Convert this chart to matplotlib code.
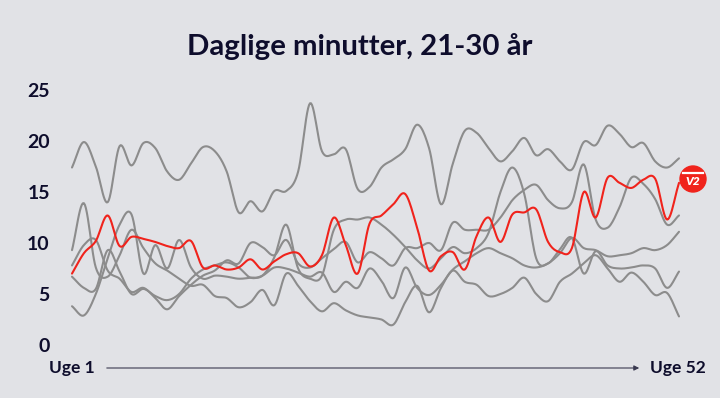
import numpy as np
import matplotlib
matplotlib.use("Agg")
import matplotlib.pyplot as plt
from matplotlib.patches import Circle, FancyArrowPatch

weeks = list(range(1, 53))
title = "Daglige minutter, 21-30 år"
yticks = [0, 5, 10, 15, 20, 25]
x_start_label = "Uge 1"
x_end_label = "Uge 52"

tv2 = [7.0, 9.0, 10.2, 12.7, 9.7, 10.6, 10.4, 10.1, 9.7, 9.5, 10.2, 7.6, 7.8, 7.4, 7.6, 8.4,
       7.4, 8.2, 8.9, 9.0, 7.7, 8.8, 12.5, 9.8, 7.0, 11.9, 12.7, 13.8, 14.8, 11.5, 7.3, 8.7,
       9.1, 7.4, 10.7, 12.5, 10.1, 12.8, 13.0, 13.3, 10.1, 9.1, 9.5, 15.0, 12.5, 16.4, 15.9,
       15.4, 16.2, 16.3, 12.3, 15.9]

other_a = [17.4, 19.9, 17.5, 14.0, 19.5, 17.6, 19.8, 19.3, 17.0, 16.2, 17.8, 19.4, 19.0, 17.0,
           13.0, 14.1, 13.1, 15.1, 15.1, 17.0, 23.7, 19.0, 18.7, 19.2, 15.3, 15.5, 17.4, 18.2,
           19.2, 21.6, 19.3, 13.8, 17.8, 21.0, 20.8, 19.3, 18.0, 19.0, 20.3, 18.6, 19.2, 18.0,
           17.2, 19.9, 19.6, 21.5, 20.7, 19.4, 19.8, 18.0, 17.4, 18.3]
other_b = [9.3, 13.9, 7.6, 6.7, 8.8, 11.3, 9.5, 8.0, 7.3, 6.5, 5.8, 5.9, 4.8, 4.6, 3.7, 4.2,
           5.4, 3.9, 7.0, 5.8, 4.3, 3.3, 4.1, 3.4, 2.9, 2.7, 2.5, 2.0, 4.2, 5.8, 3.2, 5.6,
           7.3, 6.2, 5.9, 4.8, 5.0, 5.6, 6.6, 5.0, 4.3, 6.2, 7.0, 8.0, 8.8, 7.5, 6.2, 7.1,
           6.2, 4.9, 5.1, 2.8]
other_c = [7.8, 9.8, 10.3, 7.3, 6.5, 5.2, 5.6, 4.6, 3.5, 4.8, 5.9, 6.8, 7.3, 8.3, 8.0, 10.0,
           9.6, 8.8, 10.3, 8.0, 7.6, 8.5, 9.4, 10.1, 8.1, 9.1, 8.5, 7.8, 9.5, 9.5, 10.0, 9.3,
           12.0, 11.3, 11.3, 11.3, 12.5, 14.2, 15.2, 15.7, 14.2, 13.4, 14.0, 17.7, 12.3, 11.5,
           13.5, 16.4, 15.8, 14.3, 11.8, 12.7]
other_d = [6.7, 5.6, 5.5, 9.3, 7.2, 5.0, 5.5, 4.8, 4.4, 5.0, 6.5, 7.4, 7.8, 8.1, 7.6, 6.6,
           6.8, 7.6, 7.5, 7.1, 6.7, 7.1, 5.2, 6.2, 5.6, 7.5, 6.3, 4.6, 7.6, 5.6, 4.9, 5.9,
           7.4, 8.2, 9.0, 9.5, 9.0, 8.5, 7.8, 7.6, 8.0, 9.0, 10.5, 9.5, 9.3, 8.7, 8.8, 9.0,
           9.5, 9.3, 9.8, 11.1]
other_e = [3.8, 2.9, 5.0, 8.5, 11.8, 12.8, 7.0, 9.8, 7.5, 10.3, 7.6, 6.5, 6.8, 6.7, 6.5, 6.6,
           6.8, 8.6, 11.8, 7.5, 6.5, 6.8, 11.3, 12.3, 12.3, 12.5, 11.8, 10.8, 9.6, 8.3, 7.5,
           8.5, 9.6, 9.0, 9.5, 11.0, 15.0, 17.4, 14.8, 8.5, 8.0, 9.4, 10.5, 7.0, 9.2, 7.8,
           7.5, 7.6, 7.8, 7.5, 5.6, 7.2]
others = [other_a, other_b, other_c, other_d, other_e]

BG = "#e1e2e6"
NAVY = "#0e0d2c"
GRAY = "#8c8c8c"
RED = "#f0231c"
FONT = ["Lato", "DejaVu Sans"]


def smooth(x, y, n=12):
    """Cubic Hermite (Catmull-Rom style) curve through the points, for drawing only."""
    x = np.asarray(x, float)
    y = np.asarray(y, float)
    m = np.gradient(y, x)
    xs, ys = [], []
    for i in range(len(x) - 1):
        h = x[i + 1] - x[i]
        t = np.linspace(0, 1, n, endpoint=False)
        h00 = 2 * t**3 - 3 * t**2 + 1
        h10 = t**3 - 2 * t**2 + t
        h01 = -2 * t**3 + 3 * t**2
        h11 = t**3 - t**2
        xs.append(x[i] + t * h)
        ys.append(h00 * y[i] + h10 * h * m[i] + h01 * y[i + 1] + h11 * h * m[i + 1])
    xs.append([x[-1]])
    ys.append([y[-1]])
    return np.concatenate(xs), np.concatenate(ys)


fig = plt.figure(figsize=(7.2, 3.98), dpi=100, facecolor=BG)
ax = fig.add_axes([72 / 720, 53 / 398, (679 - 72) / 720, 255 / 398])
ax.set_facecolor(BG)
ax.set_xlim(1, 52)
ax.set_ylim(0, 25)
for s in ax.spines.values():
    s.set_visible(False)

for ser in others:
    sx, sy = smooth(weeks, ser)
    ax.plot(sx, sy, color=GRAY, lw=1.5, solid_capstyle="round", clip_on=False, zorder=2)
sx, sy = smooth(weeks, tv2)
ax.plot(sx, sy, color=RED, lw=1.5, solid_capstyle="round", clip_on=False, zorder=3)

ax.set_xticks([])
ax.set_yticks(yticks)
ax.set_yticklabels([str(v) for v in yticks], fontsize=14, fontweight="bold",
                   color=NAVY, family=FONT)
ax.tick_params(axis="y", length=0, pad=16)

fig.text(0.5, 1 - 47 / 398, title, ha="center", va="center", fontsize=21.2,
         fontweight="bold", color=NAVY, family=FONT)

ylab = 1 - 368 / 398
fig.text(49 / 720, ylab, x_start_label, ha="left", va="center", fontsize=12.5,
         fontweight="bold", color=NAVY, family=FONT)
fig.text(706 / 720, ylab, x_end_label, ha="right", va="center", fontsize=12.5,
         fontweight="bold", color=NAVY, family=FONT)
arr = FancyArrowPatch((104 / 720, ylab), (642 / 720, ylab), transform=fig.transFigure,
                      arrowstyle="-|>,head_length=3,head_width=1.5", color="#3a3950",
                      lw=0.8, mutation_scale=1)
fig.patches.append(arr)

# TV2 logo badge at the end of the red line
lx, ly = 693 / 720, 1 - 179 / 398
fig.patches.append(Circle((693, 398 - 179), 13, transform=None, color=RED, zorder=5))
fig.text(lx, ly - 0.006, "V2", ha="center", va="center", fontsize=8.5, fontweight="heavy",
         color="white", family=FONT, zorder=6, style="italic")
fig.lines.append(plt.Line2D([683 / 720, 703 / 720], [ly + 0.016, ly + 0.016],
                            transform=fig.transFigure, color="white", lw=1.6, zorder=6))

fig.savefig("out.png", dpi=100, facecolor=BG)
